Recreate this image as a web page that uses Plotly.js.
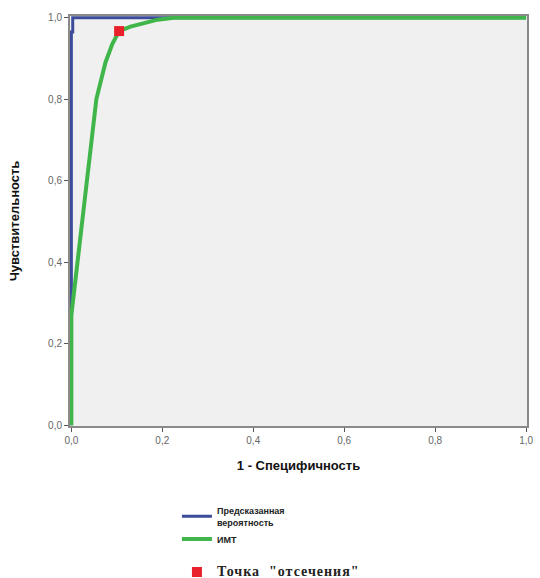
<!DOCTYPE html>
<html>
<head>
<meta charset="utf-8">
<script src="https://cdn.plot.ly/plotly-3.0.1.min.js"></script>
<style>html,body{margin:0;padding:0;background:#fff;}#chart{width:540px;height:578px;}</style>
</head>
<body>
<div id="chart"></div>
<script>
// Predicted probability ROC (1 - specificity, sensitivity)
var predX = [0, 0, 0.003, 0.003, 1];
var predY = [0, 0.965, 0.965, 1, 1];
// BMI (ИМТ) ROC
var bmiX = [0, 0, 0.055, 0.075, 0.09, 0.105, 0.13, 0.16, 0.19, 0.23, 1];
var bmiY = [0, 0.27, 0.80, 0.89, 0.935, 0.967, 0.978, 0.987, 0.995, 1, 1];
// Cut-off point
var cutX = [0.105];
var cutY = [0.967];
var xTicks = [0, 0.2, 0.4, 0.6, 0.8, 1.0];
var yTicks = [0, 0.2, 0.4, 0.6, 0.8, 1.0];

var traces = [
  {x: predX, y: predY, mode: 'lines', name: 'Предсказанная<br>вероятность', legendgroup: 'a',
   line: {color: '#3d4b9b', width: 3}},
  {x: bmiX, y: bmiY, mode: 'lines', name: 'ИМТ', legendgroup: 'a',
   line: {color: '#40b64a', width: 4}},
  {x: cutX, y: cutY, mode: 'markers', legendgroup: 'b',
   name: '<span style="font-family:Liberation Serif;font-size:14px;letter-spacing:1px">Точка  "отсечения"</span>',
   marker: {color: '#e8212b', size: 10, symbol: 'square'}, cliponaxis: false}
];

var layout = {
  width: 540, height: 578,
  margin: {l: 70, r: 13, t: 16, b: 152, autoexpand: false},
  paper_bgcolor: '#ffffff',
  plot_bgcolor: '#f0f0f0',
  separators: ',.',
  showlegend: true,
  legend: {
    x: 0.234, y: -0.176, xanchor: 'left', yanchor: 'top',
    font: {family: 'Arial, Liberation Sans', size: 9, color: '#222', weight: 'bold'},
    tracegroupgap: 14, itemwidth: 30, bgcolor: 'rgba(0,0,0,0)', traceorder: 'grouped'
  },
  xaxis: {
    range: [-0.003, 1.002], tickvals: xTicks, tickformat: '.1f',
    showgrid: false, zeroline: false,
    showline: true, linecolor: '#8a8a8a', linewidth: 2, mirror: true,
    ticks: 'outside', ticklen: 4, tickcolor: '#555', tickwidth: 1,
    tickfont: {family: 'Arial, Liberation Sans', size: 10, color: '#666'},
    title: {text: '1 - Специфичность', font: {family: 'Arial, Liberation Sans', size: 13, color: '#111', weight: 'bold'}, standoff: 16}
  },
  yaxis: {
    range: [-0.002, 1.004], tickvals: yTicks, tickformat: '.1f',
    showgrid: false, zeroline: false,
    showline: true, linecolor: '#8a8a8a', linewidth: 2, mirror: true,
    ticks: 'outside', ticklen: 4, tickcolor: '#555', tickwidth: 1,
    tickfont: {family: 'Arial, Liberation Sans', size: 10, color: '#666'},
    title: {text: 'Чувствительность', font: {family: 'Arial, Liberation Sans', size: 13, color: '#111', weight: 'bold'}, standoff: 26}
  }
};

Plotly.newPlot('chart', traces, layout, {displayModeBar: false, staticPlot: true});
</script>
</body>
</html>
